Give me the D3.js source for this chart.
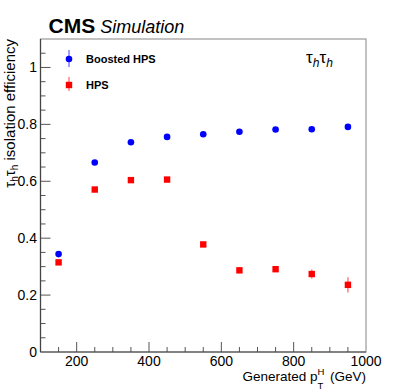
<!DOCTYPE html>
<meta charset="utf-8">
<style>
    body { margin: 0; background: #fff; }
    text { font-family: "Liberation Sans", Arial, sans-serif; }
</style>
<script src="https://d3js.org/d3.v7.min.js"></script>
<div id="chart"></div>
<script>
    // generated pT bins (GeV)
    const ptBins = [150, 250, 350, 450, 550, 650, 750, 850, 950];
    // efficiencies
    const boostedEff = [0.344, 0.666, 0.737, 0.756, 0.765, 0.774, 0.782, 0.783, 0.791];
    const boostedErr = [0.006, 0.005, 0.005, 0.005, 0.005, 0.005, 0.005, 0.006, 0.008];
    const hpsEff = [0.315, 0.571, 0.604, 0.606, 0.378, 0.287, 0.291, 0.274, 0.236];
    const hpsErr = [0.006, 0.006, 0.006, 0.007, 0.008, 0.010, 0.010, 0.016, 0.027];
    const yTicks = [0, 0.2, 0.4, 0.6, 0.8, 1];
    const xTicks = [200, 400, 600, 800, 1000];

    const W = 407, H = 391;
    const margin = {top: 39, right: 41, bottom: 39, left: 40.5};
    const width = W - margin.left - margin.right,
          height = H - margin.top - margin.bottom;

    const svg = d3.select("#chart").append("svg")
        .attr("width", W).attr("height", H);
    const g = svg.append("g")
        .attr("transform", `translate(${margin.left},${margin.top})`);

    const x = d3.scaleLinear().domain([100, 1000]).range([0, width]);
    const y = d3.scaleLinear().domain([0, 1.1]).range([height, 0]);

    // frame (top + right lighter)
    g.append("rect")
        .attr("width", width).attr("height", height)
        .attr("fill", "none").attr("stroke", "#999").attr("stroke-width", 1.2);

    // minor / major ticks, drawn inward
    const xMinor = d3.range(150, 1000, 50);
    g.selectAll(".xminor").data(xMinor).enter().append("line")
        .attr("x1", d => x(d)).attr("x2", d => x(d))
        .attr("y1", height).attr("y2", d => height - (d % 200 === 0 ? 10 : 5))
        .attr("stroke", "#555");
    const yMinor = d3.range(0.05, 1.1, 0.05);
    g.selectAll(".yminor").data(yMinor).enter().append("line")
        .attr("y1", d => y(d)).attr("y2", d => y(d))
        .attr("x1", 0).attr("x2", d => (Math.abs(d * 5 - Math.round(d * 5)) < 1e-6 ? 10 : 5))
        .attr("stroke", "#555");

    // axis lines
    g.append("line").attr("x1", 0).attr("x2", 0).attr("y1", 0).attr("y2", height)
        .attr("stroke", "#444").attr("stroke-width", 1.2);
    g.append("line").attr("x1", 0).attr("x2", width).attr("y1", height).attr("y2", height)
        .attr("stroke", "#444").attr("stroke-width", 1.2);

    // tick labels
    g.selectAll(".ylab").data(yTicks).enter().append("text")
        .attr("x", -3.5).attr("y", d => y(d) + 5)
        .attr("text-anchor", "end").attr("font-size", 14).attr("fill", "#000")
        .text(d => d === 0 || d === 1 ? d : d3.format(".1f")(d));
    g.selectAll(".xlab").data(xTicks).enter().append("text")
        .attr("x", d => x(d)).attr("y", height + 13.8)
        .attr("text-anchor", "middle").attr("font-size", 14).attr("fill", "#000")
        .text(d => d);

    // x title
    const xt = svg.append("text")
        .attr("x", margin.left + width).attr("y", 381)
        .attr("text-anchor", "end").attr("font-size", 13.5);
    xt.append("tspan").text("Generated p");
    xt.append("tspan").attr("font-size", 9.5).attr("dy", -6).text("H");
    xt.append("tspan").attr("font-size", 9.5).attr("dx", -7).attr("dy", 14).text("T");
    xt.append("tspan").attr("dx", 3).attr("dy", -8).text(" (GeV)");

    // y title
    const yt = svg.append("text")
        .attr("transform", `translate(15,${margin.top}) rotate(-90)`)
        .attr("text-anchor", "end").attr("font-size", 15);
    yt.append("tspan").text("τ");
    yt.append("tspan").attr("font-size", 10).attr("dy", 3).text("h");
    yt.append("tspan").attr("dy", -3).text("τ");
    yt.append("tspan").attr("font-size", 10).attr("dy", 3).text("h");
    yt.append("tspan").attr("dy", -3).text(" isolation efficiency");

    // CMS label
    const cms = svg.append("text").attr("x", 48.5).attr("y", 32.5);
    cms.append("tspan").attr("font-weight", "bold").attr("font-size", 21).text("CMS");
    cms.append("tspan").attr("font-style", "italic").attr("font-size", 18).attr("dx", 5).text("Simulation");

    // channel label
    const ch = svg.append("text").attr("x", 306).attr("y", 63)
        .attr("font-family", "Liberation Serif, serif").attr("font-size", 17);
    ch.append("tspan").text("τ");
    ch.append("tspan").attr("font-style", "italic").attr("font-size", 12).attr("dy", 4).text("h");
    ch.append("tspan").attr("dy", -4).text("τ");
    ch.append("tspan").attr("font-style", "italic").attr("font-size", 12).attr("dy", 4).text("h");

    // series
    const boosted = ptBins.map((p, i) => ({pt: p, v: boostedEff[i], e: boostedErr[i]}));
    const hps = ptBins.map((p, i) => ({pt: p, v: hpsEff[i], e: hpsErr[i]}));

    function errBars(data, color) {
        g.append("g").selectAll("line").data(data).enter().append("line")
            .attr("x1", d => x(d.pt)).attr("x2", d => x(d.pt))
            .attr("y1", d => y(d.v - d.e)).attr("y2", d => y(d.v + d.e))
            .attr("stroke", color).attr("stroke-opacity", 0.5).attr("stroke-width", 1.5);
    }
    errBars(hps, "#f00");
    errBars(boosted, "#00f");

    g.append("g").selectAll("rect").data(hps).enter().append("rect")
        .attr("x", d => x(d.pt) - 3.2).attr("y", d => y(d.v) - 3.2)
        .attr("width", 6.4).attr("height", 6.4).attr("fill", "#f00");
    g.append("g").selectAll("circle").data(boosted).enter().append("circle")
        .attr("cx", d => x(d.pt)).attr("cy", d => y(d.v)).attr("r", 3.3)
        .attr("fill", "#00f");

    // legend
    const leg = svg.append("g");
    leg.append("line").attr("x1", 69).attr("x2", 69).attr("y1", 50).attr("y2", 67)
        .attr("stroke", "#00f").attr("stroke-opacity", 0.5).attr("stroke-width", 1.5);
    leg.append("circle").attr("cx", 69).attr("cy", 59).attr("r", 3.3).attr("fill", "#00f");
    leg.append("line").attr("x1", 69).attr("x2", 69).attr("y1", 77).attr("y2", 91)
        .attr("stroke", "#f00").attr("stroke-opacity", 0.5).attr("stroke-width", 1.5);
    leg.append("rect").attr("x", 65.8).attr("y", 81.8).attr("width", 6.4).attr("height", 6.4).attr("fill", "#f00");
    leg.append("text").attr("x", 86).attr("y", 63).attr("font-size", 11).attr("font-weight", "bold").text("Boosted HPS");
    leg.append("text").attr("x", 86).attr("y", 89).attr("font-size", 11).attr("font-weight", "bold").text("HPS");
</script>
